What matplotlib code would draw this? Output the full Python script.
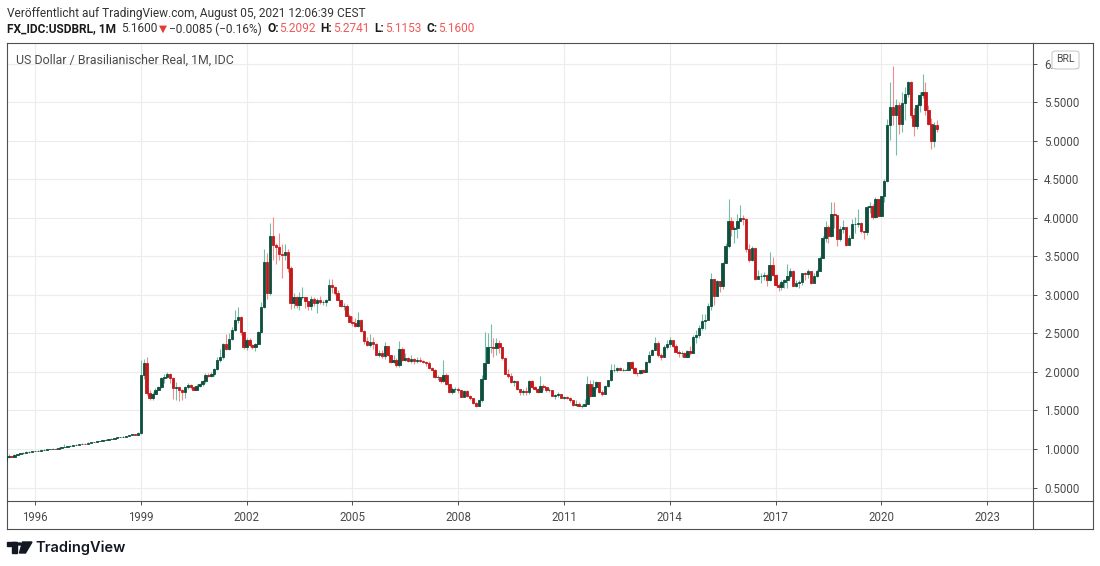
# USD/BRL monthly candles, TradingView style snapshot

import matplotlib.pyplot as plt
from matplotlib.patches import Rectangle, Polygon, Circle, FancyBboxPatch
from matplotlib.lines import Line2D

W, H = 1100, 566

START_YEAR = 1995
START_MONTH = 3
FIRST_OPEN = 0.84

# monthly closes, Mar 1995 .. Aug 2021
closes = [
    0.89, 0.91, 0.90, 0.92, 0.93, 0.95, 0.95, 0.96, 0.96, 0.97,  # 1995
    0.975, 0.98, 0.985, 0.99, 0.995, 1.00, 1.005, 1.00, 1.015, 1.02, 1.03, 1.04,  # 1996
    1.045, 1.05, 1.055, 1.06, 1.07, 1.068, 1.08, 1.085, 1.09, 1.10, 1.105, 1.115,  # 1997
    1.12, 1.13, 1.135, 1.14, 1.15, 1.155, 1.16, 1.17, 1.18, 1.19, 1.188, 1.21,  # 1998
    1.96, 2.11, 1.73, 1.66, 1.72, 1.77, 1.80, 1.92, 1.93, 1.97, 1.92, 1.79,  # 1999
    1.80, 1.77, 1.74, 1.81, 1.83, 1.80, 1.77, 1.82, 1.84, 1.88, 1.96, 1.95,  # 2000
    1.97, 2.04, 2.16, 2.19, 2.36, 2.30, 2.43, 2.55, 2.67, 2.71, 2.52, 2.32,  # 2001
    2.42, 2.35, 2.32, 2.36, 2.52, 2.84, 3.43, 3.02, 3.76, 3.65, 3.62, 3.53,  # 2002
    3.52, 3.56, 3.35, 2.89, 2.97, 2.87, 2.97, 2.97, 2.92, 2.86, 2.95, 2.89,  # 2003
    2.94, 2.91, 2.91, 2.94, 3.13, 3.10, 3.03, 2.94, 2.86, 2.86, 2.73, 2.65,  # 2004
    2.63, 2.60, 2.67, 2.53, 2.40, 2.35, 2.39, 2.36, 2.22, 2.25, 2.21, 2.34,  # 2005
    2.22, 2.13, 2.16, 2.09, 2.30, 2.16, 2.18, 2.14, 2.17, 2.14, 2.16, 2.14,  # 2006
    2.13, 2.12, 2.05, 2.03, 1.93, 1.93, 1.88, 1.96, 1.84, 1.74, 1.78, 1.78,  # 2007
    1.76, 1.68, 1.75, 1.69, 1.66, 1.60, 1.56, 1.63, 1.91, 2.12, 2.33, 2.33,  # 2008
    2.31, 2.38, 2.32, 2.18, 1.97, 1.95, 1.87, 1.88, 1.78, 1.74, 1.75, 1.74,  # 2009
    1.88, 1.80, 1.78, 1.74, 1.82, 1.80, 1.76, 1.76, 1.69, 1.70, 1.71, 1.66,  # 2010
    1.67, 1.66, 1.63, 1.57, 1.58, 1.56, 1.56, 1.59, 1.85, 1.69, 1.81, 1.87,  # 2011
    1.74, 1.71, 1.82, 1.89, 2.02, 2.02, 2.05, 2.03, 2.03, 2.03, 2.13, 2.05,  # 2012
    1.99, 1.98, 2.02, 2.00, 2.13, 2.22, 2.29, 2.38, 2.22, 2.20, 2.33, 2.36,  # 2013
    2.42, 2.34, 2.26, 2.24, 2.24, 2.20, 2.27, 2.24, 2.45, 2.48, 2.57, 2.66,  # 2014
    2.68, 2.85, 3.21, 2.99, 3.18, 3.11, 3.42, 3.63, 3.96, 3.86, 3.87, 3.96,  # 2015
    4.00, 3.98, 3.59, 3.45, 3.61, 3.21, 3.24, 3.24, 3.26, 3.19, 3.39, 3.26,  # 2016
    3.13, 3.10, 3.17, 3.19, 3.24, 3.31, 3.12, 3.15, 3.17, 3.28, 3.27, 3.31,  # 2017
    3.16, 3.24, 3.31, 3.48, 3.74, 3.88, 3.76, 4.05, 4.04, 3.72, 3.86, 3.88,  # 2018
    3.65, 3.74, 3.92, 3.92, 3.93, 3.83, 3.82, 4.14, 4.16, 4.01, 4.24, 4.02,  # 2019
    4.28, 4.48, 5.20, 5.44, 5.34, 5.47, 5.22, 5.49, 5.61, 5.76, 5.33, 5.19,  # 2020
    5.47, 5.60, 5.63, 5.40, 5.22, 5.00, 5.21, 5.16,  # 2021
]

highs = [
    0.90, 0.93, 0.91, 0.93, 0.94, 0.95, 0.96, 0.97, 0.97, 0.98,
    0.98, 0.985, 0.99, 0.995, 1.00, 1.005, 1.01, 1.015, 1.02, 1.03, 1.07, 1.045,
    1.05, 1.055, 1.06, 1.065, 1.075, 1.08, 1.085, 1.09, 1.095, 1.105, 1.11, 1.12,
    1.125, 1.135, 1.14, 1.145, 1.155, 1.16, 1.165, 1.175, 1.185, 1.195, 1.20, 1.215,
    2.15, 2.17, 2.20, 1.77, 1.74, 1.79, 1.82, 1.94, 1.97, 2.00, 1.98, 1.93,
    1.87, 1.81, 1.78, 1.82, 1.86, 1.84, 1.82, 1.84, 1.86, 1.90, 1.98, 1.99,
    2.00, 2.05, 2.19, 2.30, 2.37, 2.49, 2.50, 2.59, 2.80, 2.84, 2.72, 2.52,
    2.44, 2.44, 2.36, 2.38, 2.53, 2.91, 3.60, 3.55, 3.93, 4.01, 3.68, 3.80,
    3.66, 3.66, 3.59, 3.37, 3.03, 2.98, 3.04, 3.10, 2.97, 2.92, 2.99, 2.97,
    2.96, 2.99, 2.94, 2.95, 3.21, 3.21, 3.11, 3.06, 2.94, 2.90, 2.88, 2.75,
    2.72, 2.70, 2.78, 2.69, 2.54, 2.46, 2.49, 2.45, 2.38, 2.29, 2.28, 2.39,
    2.34, 2.22, 2.22, 2.18, 2.40, 2.32, 2.24, 2.19, 2.22, 2.18, 2.20, 2.19,
    2.16, 2.14, 2.14, 2.06, 2.04, 1.96, 1.94, 2.16, 1.98, 1.84, 1.81, 1.80,
    1.80, 1.77, 1.76, 1.76, 1.70, 1.66, 1.61, 1.64, 1.96, 2.52, 2.51, 2.62,
    2.44, 2.44, 2.42, 2.33, 2.19, 2.04, 1.98, 1.90, 1.88, 1.78, 1.78, 1.81,
    1.89, 1.90, 1.82, 1.79, 1.95, 1.85, 1.80, 1.79, 1.76, 1.71, 1.74, 1.72,
    1.69, 1.69, 1.68, 1.64, 1.63, 1.61, 1.58, 1.65, 1.95, 1.89, 1.89, 1.88,
    1.87, 1.76, 1.83, 1.90, 2.10, 2.10, 2.06, 2.07, 2.05, 2.04, 2.13, 2.14,
    2.06, 2.00, 2.02, 2.04, 2.14, 2.27, 2.30, 2.45, 2.40, 2.25, 2.35, 2.42,
    2.45, 2.42, 2.36, 2.29, 2.27, 2.26, 2.28, 2.34, 2.48, 2.55, 2.61, 2.75,
    2.75, 2.89, 3.29, 3.16, 3.20, 3.17, 3.43, 3.67, 4.25, 4.01, 3.89, 4.05,
    4.17, 4.04, 4.00, 3.66, 3.63, 3.59, 3.32, 3.28, 3.30, 3.27, 3.56, 3.49,
    3.27, 3.16, 3.20, 3.21, 3.40, 3.35, 3.32, 3.20, 3.20, 3.29, 3.30, 3.33,
    3.31, 3.29, 3.34, 3.51, 3.76, 3.96, 3.91, 4.21, 4.21, 3.95, 3.89, 3.97,
    3.88, 3.78, 3.98, 4.01, 4.12, 3.95, 3.83, 4.16, 4.20, 4.18, 4.27, 4.23,
    4.29, 4.50, 5.28, 5.76, 5.97, 5.54, 5.51, 5.64, 5.70, 5.78, 5.78, 5.43,
    5.48, 5.64, 5.87, 5.76, 5.47, 5.30, 5.25, 5.27,
]

lows = [
    0.84, 0.88, 0.89, 0.90, 0.92, 0.93, 0.94, 0.95, 0.95, 0.96,
    0.97, 0.975, 0.98, 0.985, 0.99, 0.995, 1.00, 0.995, 1.00, 1.015, 1.02, 1.03,
    1.04, 1.045, 1.05, 1.055, 1.06, 1.06, 1.065, 1.08, 1.085, 1.09, 1.10, 1.105,
    1.115, 1.12, 1.13, 1.135, 1.14, 1.15, 1.155, 1.16, 1.17, 1.18, 1.185, 1.185,
    1.20, 1.91, 1.70, 1.63, 1.64, 1.71, 1.76, 1.79, 1.86, 1.92, 1.86, 1.65,
    1.64, 1.62, 1.63, 1.66, 1.78, 1.78, 1.76, 1.76, 1.80, 1.82, 1.86, 1.93,
    1.93, 1.95, 2.03, 2.13, 2.17, 2.28, 2.28, 2.41, 2.53, 2.63, 2.48, 2.30,
    2.29, 2.33, 2.30, 2.27, 2.36, 2.50, 2.83, 2.95, 3.00, 3.45, 3.40, 3.45,
    3.22, 3.45, 3.30, 2.82, 2.83, 2.83, 2.81, 2.95, 2.83, 2.80, 2.81, 2.86,
    2.77, 2.88, 2.87, 2.86, 2.93, 3.03, 3.00, 2.93, 2.84, 2.80, 2.72, 2.65,
    2.60, 2.59, 2.58, 2.52, 2.36, 2.34, 2.33, 2.30, 2.22, 2.19, 2.18, 2.17,
    2.21, 2.12, 2.11, 2.07, 2.06, 2.14, 2.14, 2.13, 2.12, 2.10, 2.12, 2.13,
    2.12, 2.08, 2.04, 2.02, 1.92, 1.90, 1.86, 1.87, 1.83, 1.73, 1.72, 1.74,
    1.73, 1.67, 1.67, 1.68, 1.63, 1.59, 1.55, 1.56, 1.61, 1.91, 2.11, 2.24,
    2.19, 2.22, 2.24, 2.16, 1.97, 1.92, 1.86, 1.82, 1.77, 1.70, 1.70, 1.70,
    1.72, 1.79, 1.76, 1.73, 1.74, 1.77, 1.74, 1.74, 1.69, 1.65, 1.68, 1.66,
    1.65, 1.65, 1.61, 1.56, 1.56, 1.56, 1.53, 1.56, 1.58, 1.68, 1.69, 1.78,
    1.73, 1.69, 1.71, 1.81, 1.88, 2.00, 2.00, 2.02, 2.01, 2.02, 2.03, 2.04,
    1.97, 1.95, 1.97, 1.98, 2.00, 2.11, 2.22, 2.28, 2.20, 2.15, 2.19, 2.30,
    2.33, 2.32, 2.26, 2.19, 2.20, 2.20, 2.20, 2.22, 2.25, 2.38, 2.44, 2.55,
    2.56, 2.67, 2.81, 2.87, 2.98, 3.04, 3.08, 3.43, 3.61, 3.76, 3.68, 3.74,
    3.97, 3.91, 3.56, 3.43, 3.44, 3.20, 3.21, 3.16, 3.20, 3.11, 3.18, 3.25,
    3.12, 3.05, 3.06, 3.09, 3.09, 3.22, 3.11, 3.10, 3.09, 3.13, 3.20, 3.22,
    3.14, 3.17, 3.23, 3.31, 3.48, 3.69, 3.68, 3.75, 3.87, 3.63, 3.70, 3.81,
    3.64, 3.67, 3.75, 3.81, 3.88, 3.81, 3.72, 3.78, 4.06, 3.98, 4.00, 4.02,
    4.02, 4.21, 4.47, 5.01, 5.21, 4.82, 5.09, 5.12, 5.27, 5.57, 5.30, 5.06,
    5.16, 5.37, 5.55, 5.34, 5.20, 4.90, 4.92, 5.11,
]

year_ticks = [1996, 1999, 2002, 2005, 2008, 2011, 2014, 2017, 2020, 2023]
price_ticks = [0.5, 1.0, 1.5, 2.0, 2.5, 3.0, 3.5, 4.0, 4.5, 5.0, 5.5, 6.0]

UP_BODY = "#0f4f3e"
DOWN_BODY = "#c4191c"
UP_WICK = "#74bda8"
DOWN_WICK = "#f28b8b"
FRAME = "#505050"
GRID = "#ececec"
TEXT = "#4a4a4a"

plt.rcParams["font.family"] = ["Roboto", "DejaVu Sans"]


def fx(px):
    return px / W


def fy(py):
    return 1 - py / H


# candle positions
xs = []
opens = []
prev = FIRST_OPEN
for i, c in enumerate(closes):
    m = START_MONTH - 1 + i
    xs.append(START_YEAR + m // 12 + (m % 12) / 12)
    opens.append(prev)
    prev = c

fig = plt.figure(figsize=(W / 100, H / 100), dpi=100)
ax = fig.add_axes([fx(7), fy(501), fx(1033) - fx(7), fy(43) - fy(501)])

ax.set_xlim(1995.206, 2024.30)
ax.set_ylim(0.325, 6.27)

up = [c >= o for o, c in zip(opens, closes)]
wick_colors = [UP_WICK if u else DOWN_WICK for u in up]
body_colors = [UP_BODY if u else DOWN_BODY for u in up]
ax.vlines(xs, lows, highs, colors=wick_colors, linewidth=0.8, zorder=2)
ax.bar(xs, [c - o for o, c in zip(opens, closes)], bottom=opens, width=0.068,
       color=body_colors, edgecolor=body_colors, linewidth=0.6, zorder=3)

ax.set_xticks(year_ticks)
ax.set_xticklabels([str(y) for y in year_ticks])
ax.set_yticks(price_ticks)
ax.set_yticklabels([f"{p:.4f}" for p in price_ticks])
ax.yaxis.tick_right()
ax.grid(True, color=GRID, linewidth=0.8, zorder=0)
ax.set_axisbelow(True)
ax.tick_params(axis="both", colors=FRAME, labelcolor=TEXT, labelsize=8.3,
               length=3, width=0.7)
ax.tick_params(axis="y", pad=5)
ax.tick_params(axis="x", pad=4)
for s in ax.spines.values():
    s.set_color(FRAME)
    s.set_linewidth(0.8)

# outer frame around the price and time scales
for (x0, y0, x1, y1) in [(1033, 43, 1093, 43), (1093, 43, 1093, 529),
                         (7, 529, 1093, 529), (7, 501, 7, 529),
                         (1033, 501, 1033, 529), (1033, 501, 1093, 501)]:
    fig.add_artist(Line2D([fx(x0), fx(x1)], [fy(y0), fy(y1)],
                          color=FRAME, linewidth=0.8))

# currency badge over the top price label
badge = FancyBboxPatch((fx(1052), fy(69)), fx(27), fy(51) - fy(69),
                       boxstyle="round,pad=0,rounding_size=0.004",
                       facecolor="white", edgecolor="#c4c4c4",
                       linewidth=0.7, zorder=10)
fig.add_artist(badge)
fig.text(fx(1065), fy(59), "BRL", ha="center", va="center", fontsize=7.5,
         color=TEXT, zorder=11)

ax.text((16 - 7) / (1033 - 7), 1 - (60 - 43) / (501 - 43),
        "US Dollar / Brasilianischer Real, 1M, IDC", transform=ax.transAxes,
        ha="left", va="center", fontsize=8.9, color=TEXT)

# header
fig.text(fx(7), fy(13), "Veröffentlicht auf TradingView.com, August 05, 2021 12:06:39 CEST",
         ha="left", va="center", fontsize=8.6, color="#333333")

RED = "#f05a5a"
parts = [
    ("FX_IDC:USDBRL, 1M", "#1a1a1a", "bold", 0),
    ("5.1600", "#333333", "normal", 3.5),
    ("▼", "#e53935", "normal", 1.5),
    ("−0.0085 (−0.16%)", "#333333", "normal", 1.5),
    ("O:", "#1a1a1a", "bold", 3.5),
    ("5.2092", RED, "normal", 0.5),
    ("H:", "#1a1a1a", "bold", 3.5),
    ("5.2741", RED, "normal", 0.5),
    ("L:", "#1a1a1a", "bold", 3.5),
    ("5.1153", RED, "normal", 0.5),
    ("C:", "#1a1a1a", "bold", 3.5),
    ("5.1600", RED, "normal", 0.5),
]
last = None
for s, col, wt, gap in parts:
    size = 7.5 if s == "▼" else 8.6
    if last is None:
        last = fig.text(fx(7), fy(29), s, ha="left", va="center",
                        fontsize=size, color=col, weight=wt)
    else:
        last = ax.annotate(s, xy=(1, 0.5), xycoords=last, xytext=(gap, 0),
                           textcoords="offset points", ha="left", va="center",
                           fontsize=size, color=col, weight=wt,
                           annotation_clip=False)

# TradingView logo
logo = "#131722"
fig.add_artist(Rectangle((fx(7), fy(546)), fx(9), fy(542) - fy(546), color=logo))
fig.add_artist(Rectangle((fx(12), fy(553)), fx(4.5), fy(542) - fy(553), color=logo))
fig.add_artist(Circle((fx(19.5), fy(544)), 2.0 / W, color=logo))
fig.add_artist(Polygon([(fx(22.5), fy(542)), (fx(32), fy(542)),
                        (fx(25.5), fy(553)), (fx(19.5), fy(553))], color=logo))
fig.text(fx(35), fy(548), "TradingView", ha="left", va="center",
         fontsize=10.5, color=logo, family=["Inter", "DejaVu Sans"],
         weight="semibold")

fig.savefig("out.png", dpi=100, facecolor="white")
